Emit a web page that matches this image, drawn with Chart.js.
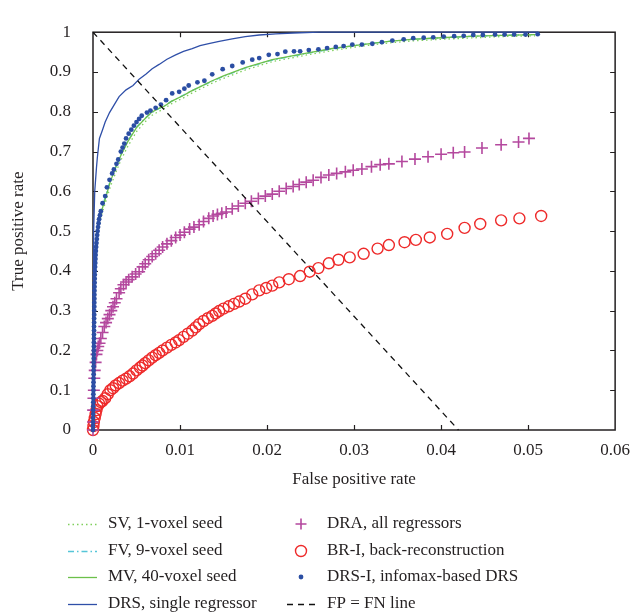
<!DOCTYPE html>
<html>
<head>
<meta charset="utf-8">
<script src="https://cdn.jsdelivr.net/npm/chart.js@4/dist/chart.umd.min.js"></script>
<style>
html,body{margin:0;padding:0;background:#fff;}
#wrap{position:relative;width:640px;height:616px;}
</style>
</head>
<body>
<div id="wrap"><canvas id="c" width="640" height="616"></canvas></div>
<script>
// ---- Data ----
const xTickValues = [0, 0.01, 0.02, 0.03, 0.04, 0.05, 0.06];
const yTickValues = [0, 0.1, 0.2, 0.3, 0.4, 0.5, 0.6, 0.7, 0.8, 0.9, 1];

const svPoints = [[0,0],[0.00005,0.19],[0.0001,0.34],[0.0002,0.43],[0.0005,0.49],[0.0009,0.535],[0.0014,0.57],[0.002,0.612],[0.0027,0.652],[0.0032,0.678],[0.004,0.713],[0.005,0.75],[0.006,0.775],[0.0067,0.79],[0.0075,0.8],[0.0082,0.808],[0.009,0.82],[0.0105,0.836],[0.0111,0.844],[0.0124,0.858],[0.0137,0.872],[0.015,0.884],[0.0175,0.905],[0.0206,0.926],[0.0244,0.942],[0.0275,0.954],[0.0309,0.965],[0.034,0.973],[0.0366,0.978],[0.04,0.982],[0.0439,0.986],[0.047,0.989],[0.0508,0.991]];

const fvPoints = [[0,0],[0.00005,0.21],[0.0001,0.35],[0.0002,0.445],[0.0005,0.505],[0.0009,0.55],[0.0014,0.585],[0.002,0.628],[0.0027,0.667],[0.0032,0.692],[0.004,0.727],[0.005,0.761],[0.006,0.784],[0.0067,0.797],[0.0075,0.807],[0.0082,0.815],[0.009,0.826],[0.0105,0.843],[0.0111,0.85],[0.0124,0.864],[0.0137,0.877],[0.015,0.889],[0.0175,0.91],[0.0206,0.93],[0.0244,0.946],[0.0275,0.958],[0.0309,0.969],[0.034,0.977],[0.0366,0.982],[0.04,0.986],[0.0439,0.99],[0.047,0.992],[0.0508,0.994]];

const mvPoints = [[0,0],[0.00005,0.2],[0.0001,0.35],[0.0002,0.44],[0.0005,0.5],[0.0009,0.545],[0.0014,0.58],[0.002,0.625],[0.0027,0.665],[0.0032,0.69],[0.004,0.725],[0.005,0.76],[0.006,0.783],[0.0067,0.798],[0.0075,0.808],[0.0082,0.814],[0.009,0.826],[0.0105,0.842],[0.0111,0.85],[0.0124,0.864],[0.0137,0.878],[0.015,0.89],[0.0175,0.911],[0.0206,0.931],[0.0244,0.947],[0.0275,0.959],[0.0309,0.969],[0.034,0.977],[0.0366,0.982],[0.04,0.986],[0.0439,0.99],[0.047,0.992],[0.0508,0.994]];

const drsPoints = [[0,0],[0.00005,0.3],[0.0001,0.5],[0.0002,0.6],[0.0003,0.63],[0.0004,0.66],[0.0005,0.685],[0.0006,0.705],[0.00074,0.733],[0.0011,0.755],[0.0014,0.774],[0.0019,0.798],[0.0025,0.82],[0.003,0.838],[0.0038,0.855],[0.0046,0.866],[0.0053,0.882],[0.0061,0.895],[0.0068,0.908],[0.0076,0.919],[0.0085,0.932],[0.0095,0.943],[0.0104,0.952],[0.0114,0.959],[0.0123,0.966],[0.0133,0.971],[0.0145,0.977],[0.016,0.983],[0.0175,0.989],[0.0191,0.993],[0.021,0.996],[0.023,0.998],[0.026,1],[0.0512,1]];

const draPoints = [[0,0],[0,0.02],[0.00002,0.05],[0.00005,0.08],[0.0001,0.1],[0.00015,0.13],[0.0002,0.15],[0.0003,0.17],[0.0004,0.19],[0.0005,0.2],[0.0006,0.21],[0.00075,0.218],[0.0009,0.23],[0.0011,0.245],[0.0013,0.26],[0.0015,0.27],[0.0017,0.28],[0.0019,0.29],[0.0021,0.3],[0.0023,0.31],[0.0025,0.32],[0.0027,0.33],[0.003,0.345],[0.0032,0.355],[0.0035,0.365],[0.0038,0.372],[0.0041,0.378],[0.0045,0.385],[0.0049,0.392],[0.0053,0.398],[0.0057,0.41],[0.006,0.418],[0.0064,0.428],[0.0068,0.436],[0.0072,0.443],[0.0076,0.452],[0.008,0.46],[0.0085,0.468],[0.009,0.476],[0.0095,0.484],[0.01,0.49],[0.0105,0.497],[0.0111,0.505],[0.0116,0.51],[0.0122,0.516],[0.0127,0.524],[0.0133,0.532],[0.0138,0.538],[0.0143,0.542],[0.0148,0.545],[0.0153,0.548],[0.016,0.556],[0.0167,0.563],[0.0175,0.57],[0.0182,0.575],[0.019,0.582],[0.0198,0.588],[0.0206,0.593],[0.0214,0.6],[0.0222,0.607],[0.023,0.612],[0.0237,0.617],[0.0245,0.623],[0.0253,0.628],[0.0262,0.635],[0.0271,0.641],[0.028,0.645],[0.029,0.649],[0.0299,0.653],[0.0309,0.656],[0.032,0.662],[0.033,0.667],[0.034,0.669],[0.0355,0.675],[0.037,0.681],[0.0385,0.687],[0.04,0.693],[0.0414,0.697],[0.0427,0.699],[0.0447,0.709],[0.0469,0.717],[0.0489,0.724],[0.0501,0.733]];

const brPoints = [[0,0],[0.00005,0.01],[0.0001,0.02],[0.0002,0.03],[0.0003,0.04],[0.0004,0.05],[0.0005,0.06],[0.0007,0.066],[0.0009,0.07],[0.0011,0.073],[0.0014,0.08],[0.0017,0.09],[0.002,0.1],[0.0023,0.105],[0.0026,0.112],[0.003,0.118],[0.0034,0.124],[0.0038,0.129],[0.0042,0.135],[0.0046,0.142],[0.005,0.15],[0.0054,0.157],[0.0057,0.162],[0.006,0.168],[0.0064,0.175],[0.0068,0.182],[0.0072,0.188],[0.0076,0.194],[0.008,0.2],[0.0085,0.207],[0.009,0.214],[0.0095,0.22],[0.0099,0.226],[0.0104,0.234],[0.0109,0.242],[0.0114,0.25],[0.0118,0.258],[0.0122,0.266],[0.0127,0.274],[0.0132,0.281],[0.0137,0.287],[0.0141,0.293],[0.0145,0.299],[0.015,0.305],[0.0156,0.311],[0.0162,0.317],[0.0168,0.323],[0.0175,0.33],[0.0183,0.341],[0.0191,0.351],[0.0199,0.357],[0.0206,0.363],[0.0214,0.371],[0.0225,0.379],[0.0238,0.387],[0.0249,0.398],[0.0259,0.407],[0.0271,0.419],[0.0282,0.428],[0.0295,0.434],[0.0311,0.443],[0.0327,0.456],[0.034,0.465],[0.0358,0.472],[0.0371,0.478],[0.0387,0.484],[0.0407,0.493],[0.0427,0.508],[0.0445,0.518],[0.0469,0.527],[0.049,0.532],[0.0515,0.538]];

const drsiPoints = [[0,0],[0,0.01],[0.00001,0.02],[0.00001,0.03],[0.00002,0.04],[0.00002,0.05],[0.00003,0.06],[0.00003,0.07],[0.00004,0.08],[0.00004,0.09],[0.00005,0.1],[0.00005,0.11],[0.00006,0.12],[0.00006,0.13],[0.00007,0.14],[0.00007,0.15],[0.00008,0.16],[0.00008,0.17],[0.00009,0.18],[0.00009,0.19],[0.0001,0.2],[0.0001,0.21],[0.0001,0.22],[0.00011,0.23],[0.00011,0.24],[0.00012,0.25],[0.00012,0.26],[0.00013,0.27],[0.00013,0.28],[0.00014,0.29],[0.00014,0.3],[0.00015,0.31],[0.00015,0.32],[0.00016,0.33],[0.00016,0.34],[0.00017,0.35],[0.00018,0.36],[0.00019,0.37],[0.0002,0.38],[0.00021,0.39],[0.00022,0.4],[0.00024,0.41],[0.00026,0.42],[0.00028,0.43],[0.0003,0.44],[0.00033,0.45],[0.00036,0.46],[0.0004,0.47],[0.00044,0.48],[0.00048,0.49],[0.00053,0.5],[0.00058,0.51],[0.00064,0.52],[0.0007,0.53],[0.0008,0.54],[0.0009,0.55],[0.0011,0.57],[0.0014,0.588],[0.0016,0.61],[0.0019,0.629],[0.0022,0.645],[0.0024,0.655],[0.0027,0.669],[0.0029,0.68],[0.0032,0.7],[0.0034,0.71],[0.0036,0.72],[0.0038,0.733],[0.0041,0.745],[0.0044,0.755],[0.0047,0.765],[0.005,0.774],[0.0053,0.782],[0.0056,0.79],[0.0062,0.798],[0.0066,0.803],[0.0072,0.81],[0.0078,0.818],[0.0084,0.829],[0.0091,0.846],[0.0099,0.85],[0.0105,0.858],[0.011,0.866],[0.012,0.874],[0.0128,0.878],[0.0137,0.894],[0.0149,0.907],[0.016,0.915],[0.0172,0.924],[0.0183,0.931],[0.0191,0.935],[0.0202,0.943],[0.0212,0.945],[0.0221,0.951],[0.0231,0.952],[0.0238,0.952],[0.0248,0.955],[0.0259,0.957],[0.0269,0.96],[0.0279,0.963],[0.0288,0.965],[0.0298,0.969],[0.0309,0.969],[0.0321,0.971],[0.0332,0.975],[0.0344,0.979],[0.0357,0.982],[0.0368,0.985],[0.038,0.986],[0.0391,0.987],[0.0403,0.989],[0.0415,0.99],[0.0426,0.991],[0.0437,0.993],[0.0448,0.993],[0.0462,0.994],[0.0473,0.994],[0.0484,0.994],[0.0497,0.994],[0.0511,0.995]];

const fpfnPoints = [[0,1],[0.042,0]];

const seriesLabels = ['SV, 1-voxel seed','FV, 9-voxel seed','MV, 40-voxel seed','DRS, single regressor','DRA, all regressors','BR-I, back-reconstruction','DRS-I, infomax-based DRS','FP = FN line'];

// ---- Styles ----
const FONT = '"Liberation Serif", "Times New Roman", serif';
const TXT = '#231f20';
const C = {sv:'#7fcf5c', fv:'#55c5d8', mv:'#6cc04a', drs:'#2f4fa8', dra:'#b4489e', br:'#ee2a2a', drsi:'#2b4ea3', fp:'#111'};
const toXY = arr => arr.map(p => ({x:p[0], y:p[1]}));

const frameTicks = {
  id:'frameTicks',
  beforeDatasetsDraw(chart){
    const {ctx, chartArea:a, scales:{x, y}} = chart;
    ctx.save();
    ctx.strokeStyle = TXT; ctx.lineWidth = 1.5;
    ctx.strokeRect(a.left, a.top, a.right-a.left, a.bottom-a.top);
    ctx.lineWidth = 1.2;
    const L = 5;
    ctx.beginPath();
    x.ticks.forEach(t => {
      if (t.value <= x.min || t.value >= x.max) return;
      const px = Math.round(x.getPixelForValue(t.value)) + 0.5;
      ctx.moveTo(px, a.bottom); ctx.lineTo(px, a.bottom - L);
      ctx.moveTo(px, a.top); ctx.lineTo(px, a.top + L);
    });
    y.ticks.forEach(t => {
      if (t.value <= y.min || t.value >= y.max) return;
      const py = Math.round(y.getPixelForValue(t.value)) + 0.5;
      ctx.moveTo(a.left, py); ctx.lineTo(a.left + L, py);
      ctx.moveTo(a.right, py); ctx.lineTo(a.right - L, py);
    });
    ctx.stroke();
    ctx.restore();
  }
};

const customLegend = {
  id:'customLegend',
  afterDraw(chart){
    const ctx = chart.ctx;
    const rows = [524, 551, 577, 604];
    ctx.save();
    ctx.font = '17px ' + FONT;
    ctx.textBaseline = 'middle';
    ctx.textAlign = 'left';
    const ds = chart.data.datasets;
    // column 1: lines
    for (let i = 0; i < 4; i++) {
      const d = ds[i], yy = rows[i] + 0.5;
      ctx.save();
      ctx.strokeStyle = d.borderColor; ctx.lineWidth = d.borderWidth;
      ctx.setLineDash(d.borderDash || []);
      ctx.beginPath(); ctx.moveTo(68, yy); ctx.lineTo(97, yy); ctx.stroke();
      ctx.restore();
      ctx.fillStyle = TXT;
      ctx.fillText(d.label, 108, rows[i]);
    }
    // column 2: markers + dashed line
    for (let i = 4; i < 8; i++) {
      const d = ds[i], yy = rows[i-4];
      ctx.save();
      ctx.strokeStyle = d.borderColor;
      ctx.lineWidth = d.borderWidth;
      ctx.beginPath();
      if (i === 7) {
        ctx.setLineDash(d.borderDash);
        ctx.moveTo(287, yy + 0.5); ctx.lineTo(316, yy + 0.5); ctx.stroke();
      } else if (i === 4) {
        ctx.moveTo(295.5, yy); ctx.lineTo(306.5, yy); ctx.moveTo(301, yy-5.5); ctx.lineTo(301, yy+5.5); ctx.stroke();
      } else if (i === 5) {
        ctx.arc(301, yy, 5.5, 0, Math.PI*2); ctx.stroke();
      } else {
        ctx.fillStyle = d.pointBackgroundColor;
        ctx.arc(301, yy, 2.4, 0, Math.PI*2); ctx.fill();
      }
      ctx.restore();
      ctx.fillStyle = TXT;
      ctx.fillText(d.label, 327, yy);
    }
    ctx.restore();
  }
};

new Chart(document.getElementById('c'), {
  type: 'scatter',
  data: {
    datasets: [
      {label: seriesLabels[0], data: toXY(svPoints), showLine:true, pointRadius:0, borderColor:C.sv, borderWidth:1.3, borderDash:[1.5,3], order:6},
      {label: seriesLabels[1], data: toXY(fvPoints), showLine:true, pointRadius:0, borderColor:C.fv, borderWidth:1.3, borderDash:[6,3,1.5,3], order:5},
      {label: seriesLabels[2], data: toXY(mvPoints), showLine:true, pointRadius:0, borderColor:C.mv, borderWidth:1.3, order:4},
      {label: seriesLabels[3], data: toXY(drsPoints), showLine:true, pointRadius:0, borderColor:C.drs, borderWidth:1.3, order:2},
      {label: seriesLabels[4], data: toXY(draPoints), showLine:false, pointStyle:'cross', pointRadius:6, borderColor:C.dra, pointBorderColor:C.dra, borderWidth:1.6, pointBorderWidth:1.6, pointBackgroundColor:C.dra, order:7},
      {label: seriesLabels[5], data: toXY(brPoints), showLine:false, pointStyle:'circle', pointRadius:5.5, borderColor:C.br, pointBorderColor:C.br, pointBackgroundColor:'rgba(0,0,0,0)', borderWidth:1.4, pointBorderWidth:1.4, order:8},
      {label: seriesLabels[6], data: toXY(drsiPoints), showLine:false, pointStyle:'circle', pointRadius:2.4, borderColor:C.drsi, pointBorderColor:C.drsi, pointBackgroundColor:C.drsi, borderWidth:0, pointBorderWidth:0, order:3},
      {label: seriesLabels[7], data: toXY(fpfnPoints), showLine:true, pointRadius:0, borderColor:C.fp, borderWidth:1.3, borderDash:[6,5], order:1}
    ]
  },
  options: {
    responsive:false, animation:false, devicePixelRatio:1,
    clip:false,
    layout:{padding:{top:16, right:23, left:0, bottom:116}},
    plugins:{legend:{display:false}, tooltip:{enabled:false}},
    elements:{line:{tension:0}},
    datasets:{scatter:{clip:false}},
    scales:{
      x:{
        type:'linear', min:0, max:0.06,
        afterBuildTicks(s){ s.ticks = xTickValues.map(v => ({value:v})); },
        afterFit(s){ s.height = 70; },
        grid:{display:false, drawTicks:false},
        border:{display:false},
        ticks:{padding:10, color:TXT, font:{family:FONT, size:17}, callback:v => String(v)},
        title:{display:true, text:'False positive rate', color:TXT, font:{family:FONT, size:17}, padding:{top:0, bottom:10}}
      },
      y:{
        type:'linear', min:0, max:1,
        afterBuildTicks(s){ s.ticks = yTickValues.map(v => ({value:v})); },
        afterFit(s){ s.width = 93; },
        grid:{display:false, drawTicks:false},
        border:{display:false},
        ticks:{padding:22, color:TXT, font:{family:FONT, size:17}, callback:v => String(v)},
        title:{display:true, text:'True positive rate', color:TXT, font:{family:FONT, size:17}, padding:{top:8, bottom:0}}
      }
    }
  },
  plugins:[frameTicks, customLegend]
});
</script>
</body>
</html>
